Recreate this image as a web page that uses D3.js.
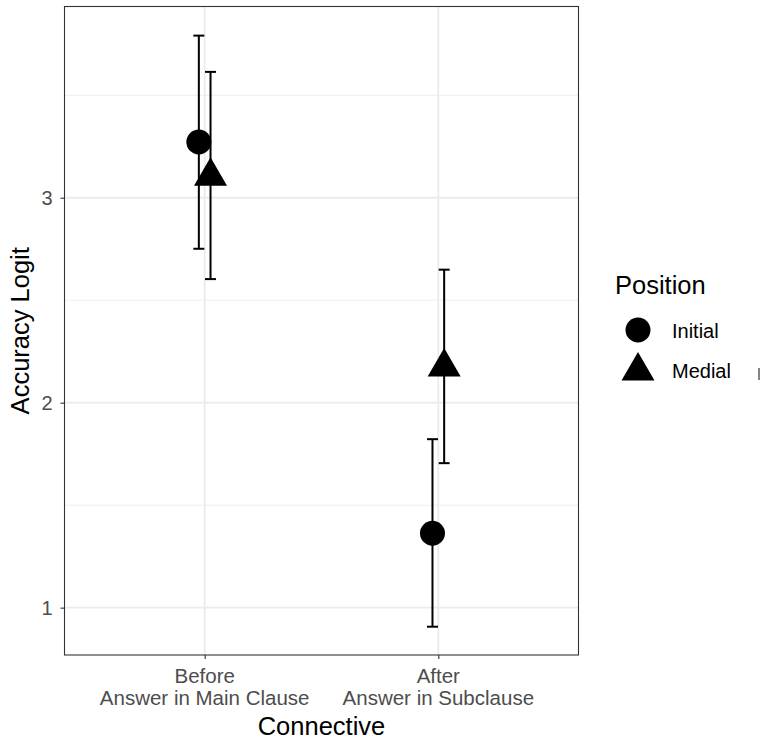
<!DOCTYPE html>
<html>
<head>
<meta charset="utf-8">
<script src="https://cdn.jsdelivr.net/npm/d3@7"></script>
<style>
  body { margin: 0; background: #fff; }
  text { font-family: "Liberation Sans", Arial, sans-serif; }
</style>
</head>
<body>
<script>
var connectives = ["Before\nAnswer in Main Clause", "After\nAnswer in Subclause"],
    positions = ["Initial", "Medial"];

// estimates per connective, in order Initial, Medial
var estInitial = [3.272, 1.363],
    estMedial  = [3.105, 2.174],
    lowInitial = [2.751, 0.907],
    lowMedial  = [2.603, 1.705],
    highInitial = [3.791, 1.822],
    highMedial  = [3.614, 2.649];

var yTicks = [1, 2, 3],
    yMinor = [1.5, 2.5, 3.5];

var width = 764,
    height = 740,
    panel = {left: 64.5, right: 578.5, top: 6.5, bottom: 655};

var svg = d3.select("body").append("svg")
    .attr("width", width)
    .attr("height", height);

var x = d3.scaleLinear()
    .domain([0.4, 2.6])
    .range([panel.left, panel.right]);

var y = d3.scaleLinear()
    .domain([0.769, 3.933])
    .range([panel.bottom, panel.top]);

var dodge = 0.025;

var data = [];
connectives.forEach(function(c, i) {
  data.push({c: i + 1, pos: "Initial", est: estInitial[i], lo: lowInitial[i], hi: highInitial[i], off: -dodge});
  data.push({c: i + 1, pos: "Medial", est: estMedial[i], lo: lowMedial[i], hi: highMedial[i], off: dodge});
});

// grid
var grid = svg.append("g");
grid.selectAll(".minor").data(yMinor).enter().append("line")
    .attr("x1", panel.left).attr("x2", panel.right)
    .attr("y1", function(d) { return y(d); }).attr("y2", function(d) { return y(d); })
    .attr("stroke", "#ebebeb").attr("stroke-width", 0.9);
grid.selectAll(".major").data(yTicks).enter().append("line")
    .attr("x1", panel.left).attr("x2", panel.right)
    .attr("y1", function(d) { return y(d); }).attr("y2", function(d) { return y(d); })
    .attr("stroke", "#ebebeb").attr("stroke-width", 1.8);
grid.selectAll(".xmajor").data([1, 2]).enter().append("line")
    .attr("y1", panel.top).attr("y2", panel.bottom)
    .attr("x1", function(d) { return x(d); }).attr("x2", function(d) { return x(d); })
    .attr("stroke", "#ebebeb").attr("stroke-width", 1.8);

// error bars
var eb = svg.append("g").attr("stroke", "#000").attr("stroke-width", 2);
data.forEach(function(d) {
  var cx = x(d.c + d.off);
  eb.append("line").attr("x1", cx).attr("x2", cx).attr("y1", y(d.lo)).attr("y2", y(d.hi));
  eb.append("line").attr("x1", cx - 5.5).attr("x2", cx + 5.5).attr("y1", y(d.lo)).attr("y2", y(d.lo));
  eb.append("line").attr("x1", cx - 5.5).attr("x2", cx + 5.5).attr("y1", y(d.hi)).attr("y2", y(d.hi));
});

function triangle(cx, cy) {
  var r = 19, xc = 16.5, yc = 9.5;
  return "M" + cx + "," + (cy - r) + "L" + (cx + xc) + "," + (cy + yc) + "L" + (cx - xc) + "," + (cy + yc) + "Z";
}

// points
data.forEach(function(d) {
  var cx = x(d.c + d.off), cy = y(d.est);
  if (d.pos == "Initial") {
    svg.append("circle").attr("cx", cx).attr("cy", cy).attr("r", 12.5).attr("fill", "#000");
  } else {
    svg.append("path").attr("d", triangle(cx, cy)).attr("fill", "#000");
  }
});

// panel border
svg.append("rect")
    .attr("x", panel.left).attr("y", panel.top)
    .attr("width", panel.right - panel.left).attr("height", panel.bottom - panel.top)
    .attr("fill", "none").attr("stroke", "#333").attr("stroke-width", 1.1);

// y axis
var yAxis = svg.append("g")
    .attr("transform", "translate(" + panel.left + ",0)")
    .call(d3.axisLeft(y).tickValues(yTicks).tickSize(4).tickPadding(8).tickFormat(d3.format("d")));
yAxis.select(".domain").remove();
yAxis.selectAll(".tick line").attr("stroke", "#333").attr("stroke-width", 1.1);
yAxis.selectAll(".tick text").attr("fill", "#4d4d4d").style("font-size", "20px")
    .style("font-family", "'Liberation Sans', Arial, sans-serif");

// x axis
var xAxis = svg.append("g")
    .attr("transform", "translate(0," + panel.bottom + ")")
    .call(d3.axisBottom(x).tickValues([1, 2]).tickSize(4).tickFormat(""));
xAxis.select(".domain").remove();
xAxis.selectAll(".tick line").attr("stroke", "#333").attr("stroke-width", 1.1);

connectives.forEach(function(c, i) {
  var t = svg.append("text")
      .attr("x", x(i + 1)).attr("y", 683)
      .attr("text-anchor", "middle")
      .attr("fill", "#4d4d4d")
      .style("font-size", "20.5px");
  c.split("\n").forEach(function(line, j) {
    t.append("tspan").attr("x", x(i + 1)).attr("dy", j == 0 ? 0 : 22).text(line);
  });
});

// axis titles
svg.append("text")
    .attr("x", (panel.left + panel.right) / 2).attr("y", 735)
    .attr("text-anchor", "middle")
    .style("font-size", "25.5px")
    .text("Connective");

svg.append("text")
    .attr("transform", "translate(29," + ((panel.top + panel.bottom) / 2) + ") rotate(-90)")
    .attr("text-anchor", "middle")
    .style("font-size", "25.5px")
    .text("Accuracy Logit");

// legend
var legend = svg.append("g");
legend.append("text").attr("x", 615).attr("y", 294).style("font-size", "25.5px").text("Position");
legend.append("circle").attr("cx", 638).attr("cy", 330).attr("r", 12.5).attr("fill", "#000");
legend.append("path").attr("d", triangle(638, 371)).attr("fill", "#000");
positions.forEach(function(p, i) {
  legend.append("text").attr("x", 672).attr("y", 337.5 + i * 40.5).style("font-size", "20px").text(p);
});
legend.append("line").attr("x1", 759).attr("x2", 759).attr("y1", 368).attr("y2", 380)
    .attr("stroke", "#333").attr("stroke-width", 1.2);
</script>
</body>
</html>
